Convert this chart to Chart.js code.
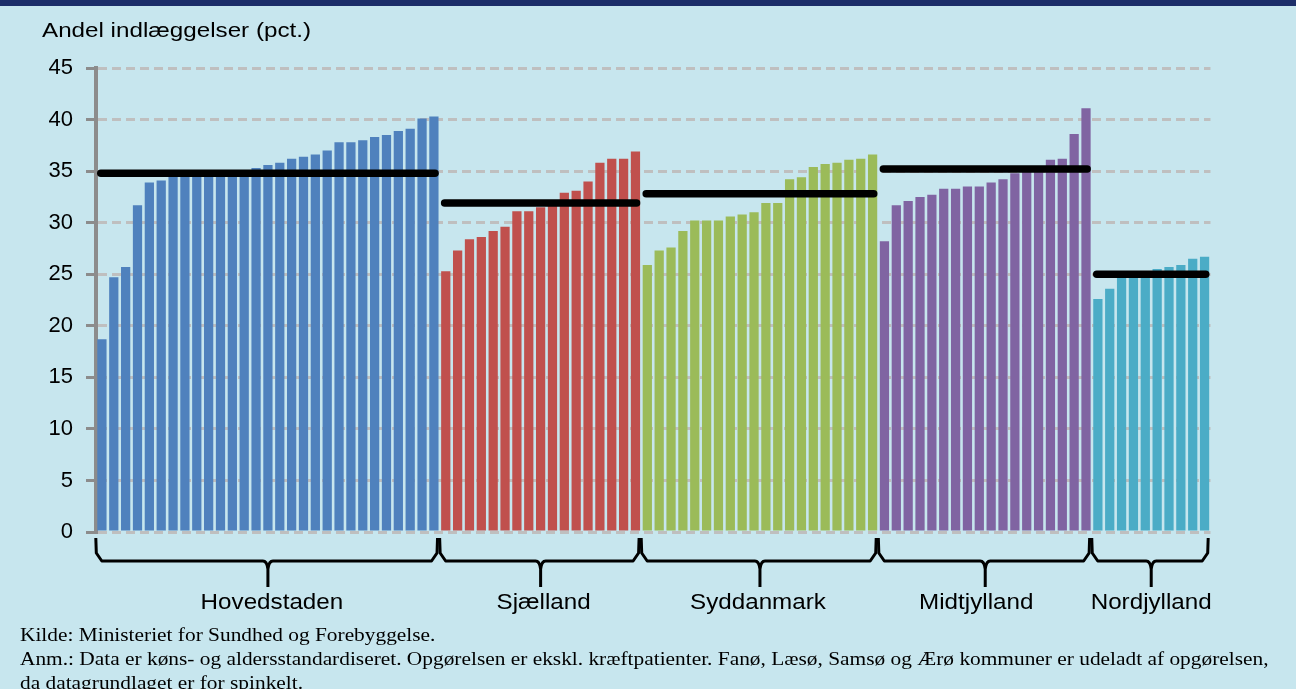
<!DOCTYPE html>
<html>
<head>
<meta charset="utf-8">
<script src="https://cdn.jsdelivr.net/npm/chart.js@4.4.1/dist/chart.umd.min.js"></script>
<style>
html,body{margin:0;padding:0;}
body{width:1296px;height:689px;background:#C7E6EE;position:relative;overflow:hidden;}
#band{position:absolute;left:0;top:0;width:1296px;height:6px;background:#1C2E69;}
#wrap{position:absolute;left:0;top:0;width:1296px;height:689px;}
.note{position:absolute;left:20px;font-family:"Liberation Serif","Times New Roman",serif;font-size:18.5px;line-height:24px;white-space:nowrap;transform-origin:0 0;transform:scaleX(1.155);color:#000;}
</style>
</head>
<body>
<div id="wrap"><canvas id="c" width="1296" height="689"></canvas></div>
<div id="band"></div>
<div class="note" style="top:623px">Kilde: Ministeriet for Sundhed og Forebyggelse.</div>
<div class="note" style="top:647px">Anm.: Data er køns- og aldersstandardiseret. Opgørelsen er ekskl. kræftpatienter. Fanø, Læsø, Samsø og Ærø kommuner er udeladt af opgørelsen,</div>
<div class="note" style="top:671px">da datagrundlaget er for spinkelt.</div>
<script>
// ---- data ----
const regions = ['Hovedstaden', 'Sjælland', 'Syddanmark', 'Midtjylland', 'Nordjylland'];
const hovedstaden = [18.7, 24.7, 25.7, 31.7, 33.9, 34.1, 34.5, 34.6, 34.6, 34.7, 34.8, 34.9, 35.0, 35.3, 35.6, 35.8, 36.2, 36.4, 36.6, 37.0, 37.8, 37.8, 38.0, 38.3, 38.5, 38.9, 39.1, 40.1, 40.3];
const sjaelland = [25.3, 27.3, 28.4, 28.6, 29.2, 29.6, 31.1, 31.1, 31.5, 31.8, 32.9, 33.1, 34.0, 35.8, 36.2, 36.2, 36.9];
const syddanmark = [25.9, 27.3, 27.6, 29.2, 30.2, 30.2, 30.2, 30.6, 30.8, 31.0, 31.9, 31.9, 34.2, 34.4, 35.4, 35.7, 35.8, 36.1, 36.2, 36.6];
const midtjylland = [28.2, 31.7, 32.1, 32.5, 32.7, 33.3, 33.3, 33.5, 33.5, 33.9, 34.2, 34.8, 35.0, 35.2, 36.1, 36.2, 38.6, 41.1];
const nordjylland = [22.6, 23.6, 24.7, 24.8, 25.0, 25.5, 25.7, 25.9, 26.5, 26.7];
const regionAverages = [34.8, 31.9, 32.8, 35.2, 25.0];
const yTickValues = [0, 5, 10, 15, 20, 25, 30, 35, 40, 45];
const yAxisTitle = 'Andel indlæggelser (pct.)';

// ---- styles ----
const regionSeries = [hovedstaden, sjaelland, syddanmark, midtjylland, nordjylland];
const regionColors = ['#4F81BD', '#C0504D', '#9BBB59', '#8064A2', '#4BACC6'];
const labelNudge = [4, 3, -2, -9, 0];

// build flat arrays for the library
const categories = [];
const values = [];
const barColors = [];
regionSeries.forEach((arr, r) => {
  arr.forEach((v, i) => {
    categories.push(regions[r] + ' ' + (i + 1));
    values.push(v);
    barColors.push(regionColors[r]);
  });
});

const BAR_PCT = 0.78;

function scaledText(ctx, text, x, y, sx, align) {
  ctx.save();
  ctx.translate(x, y);
  ctx.scale(sx, 1);
  ctx.textAlign = align;
  ctx.textBaseline = 'alphabetic';
  ctx.fillText(text, 0, 0);
  ctx.restore();
}

const overlay = {
  id: 'overlay',
  afterDatasetsDraw(chart) {
    const {ctx, scales: {x, y}, chartArea} = chart;
    const cw = x.getPixelForValue(1) - x.getPixelForValue(0);
    const hb = cw * BAR_PCT / 2;
    let start = 0;
    const base = chartArea.bottom;
    regionSeries.forEach((arr, r) => {
      const end = start + arr.length - 1;
      const xl = x.getPixelForValue(start) - hb;
      const xr = x.getPixelForValue(end) + hb;
      const xc = (xl + xr) / 2;
      // average line
      const ya = y.getPixelForValue(regionAverages[r]);
      ctx.save();
      ctx.strokeStyle = '#000';
      ctx.lineWidth = 7.5;
      ctx.lineCap = 'round';
      ctx.beginPath();
      ctx.moveTo(xl + 3.5, ya);
      ctx.lineTo(xr - 3.5, ya);
      ctx.stroke();
      ctx.restore();
      // brace
      const bl = xl - 1.5, br = xr - 1;
      const top = base + 6, hy = base + 29, tip = base + 55;
      ctx.save();
      ctx.strokeStyle = '#000';
      ctx.lineWidth = 3;
      ctx.lineJoin = 'round';
      ctx.beginPath();
      ctx.moveTo(bl, top);
      ctx.lineTo(bl + 0.5, hy - 8);
      ctx.lineTo(bl + 6, hy);
      ctx.lineTo(xc - 5, hy);
      ctx.quadraticCurveTo(xc - 1, hy, xc, hy + 8);
      ctx.lineTo(xc, tip);
      ctx.moveTo(xc, hy + 8);
      ctx.quadraticCurveTo(xc + 1, hy, xc + 5, hy);
      ctx.lineTo(br - 6, hy);
      ctx.lineTo(br - 0.5, hy - 8);
      ctx.lineTo(br, top);
      ctx.stroke();
      ctx.restore();
      // region label
      ctx.save();
      ctx.fillStyle = '#000';
      ctx.font = '22px "Liberation Sans", Arial, sans-serif';
      scaledText(ctx, regions[r], xc + labelNudge[r], base + 77, 1.1, 'center');
      ctx.restore();
      start = end + 1;
    });
  },
  afterDraw(chart) {
    const {ctx} = chart;
    ctx.save();
    ctx.fillStyle = '#000';
    ctx.font = '20px "Liberation Sans", Arial, sans-serif';
    scaledText(ctx, yAxisTitle, 42, 37, 1.21, 'left');
    ctx.restore();
  }
};

new Chart(document.getElementById('c'), {
  type: 'bar',
  data: {
    labels: categories,
    datasets: [{
      data: values,
      backgroundColor: barColors,
      borderWidth: 0,
      barPercentage: BAR_PCT,
      categoryPercentage: 1.0
    }]
  },
  options: {
    responsive: false,
    animation: false,
    devicePixelRatio: 1,
    layout: {padding: {left: 0, top: 68, right: 85.5, bottom: 157}},
    plugins: {legend: {display: false}, tooltip: {enabled: false}, title: {display: false}},
    scales: {
      x: {display: false, offset: true, grid: {display: false}},
      y: {
        min: 0, max: 45,
        afterFit(s) { s.width = 96; },
        afterBuildTicks(s) { s.ticks = yTickValues.map(v => ({value: v})); },
        ticks: {
          stepSize: 5, padding: 13, color: '#000',
          font: {family: '"Liberation Sans", Arial, sans-serif', size: 22}
        },
        grid: {color: '#BFBFBF', lineWidth: 3, tickLength: 10, tickColor: '#8C8C8C', tickWidth: 3},
        border: {display: true, color: '#8C8C8C', width: 4, dash: [9, 5]}
      }
    }
  },
  plugins: [overlay]
});
</script>
</body>
</html>
